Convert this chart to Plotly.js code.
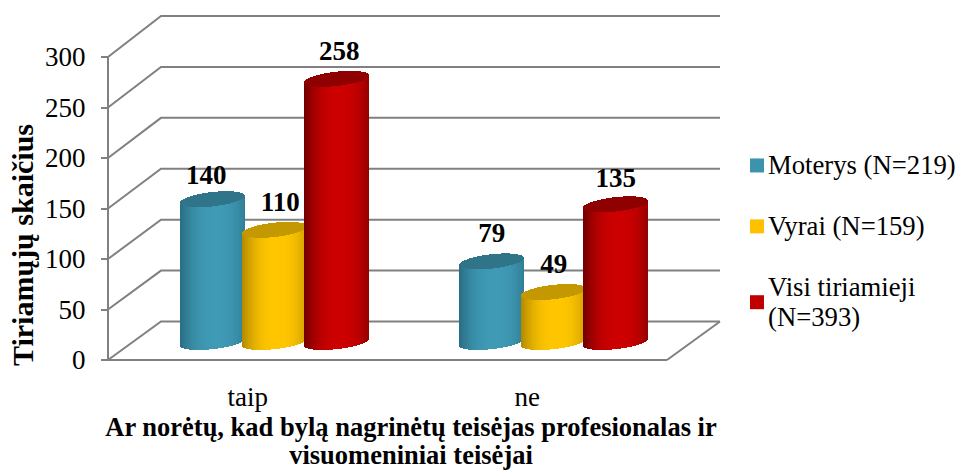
<!DOCTYPE html>
<html><head><meta charset="utf-8">
<script src="https://cdn.plot.ly/plotly-3.0.1.min.js"></script>
<style>html,body{margin:0;padding:0;background:#fff}</style></head>
<body><div id="chart" style="width:960px;height:470px"></div>
<script>
var categories = ["taip", "ne"];
var seriesNames = ["Moterys (N=219)", "Vyrai (N=159)", "Visi tiriamieji<br>(N=393)"];
var moterys = [140, 79];
var vyrai = [110, 49];
var visi = [258, 135];
var tickValues = [0, 50, 100, 150, 200, 250, 300];
var values = [moterys, vyrai, visi];
var centerColors = [[63,154,181],[255,198,0],[204,0,0]];
var edgeColors = [[40,108,130],[176,136,0],[112,0,0]];
var capColors = ["#2f7489", "#c39800", "#8f0000"];
var swatchColors = ["#3b93ad", "#ffc000", "#c00000"];
var labelNudgePx = [[-6, 6, 3], [0, 0, 0]];
var labelRisePx = [[22, 26, 26], [26, 26, 24]];

var FONT = '"Liberation Serif", serif';
var pxX = 279.5, pxY = 1.01;
var plotL = 100, plotR = 722, plotT = 5, plotB = 375, front0 = 360, axisPx = 108;
var xMin = (plotL - axisPx) / pxX, xMax = (plotR - axisPx) / pxX;
var yMin = (front0 - plotB) / pxY, yMax = (front0 - plotT) / pxY;
var depthX = 53 / pxX, frontW = 2;
function depthY(v) { return (38.5 + v * 2.5 / 300) / pxY; }
function paperX(px) { return (px - plotL) / (plotR - plotL); }
function paperY(px) { return (plotB - px) / (plotB - plotT); }
function sized(t, s) { return '<span style="font-size:' + s + 'px">' + t + '</span>'; }

var shapes = [];
var gridLine = {color: "#808080", width: 2};
tickValues.forEach(function (v) {
  var bx = depthX, by = v + depthY(v);
  shapes.push({type: "path", layer: "below", xref: "x", yref: "y", line: gridLine,
    path: "M0," + v + " L" + bx + "," + by + " L" + (frontW + depthX) + "," + by});
});
shapes.push({type: "line", layer: "below", xref: "x", yref: "y", x0: 0, x1: frontW, y0: 0, y1: 0, line: gridLine});
shapes.push({type: "line", layer: "below", xref: "x", yref: "y", x0: frontW, x1: frontW + depthX, y0: 0, y1: depthY(0), line: gridLine});
shapes.push({type: "line", layer: "below", xref: "x", yref: "y", x0: 0, x1: 0, y0: 0, y1: tickValues[tickValues.length - 1], line: gridLine});

var halfW = 32.5, ellB = 7.2, ellK = 3.5, stepPx = 62, baseV = 18 / pxY, heightK = 1.02 / pxY;
function mix(a, b, f) {
  return "rgb(" + a.map(function (c, i) { return Math.round(c + (b[i] - c) * f); }).join(",") + ")";
}
function groupX(c) { return c + 0.5 + depthX / 2; }

var traces = [];
var labelX = [], labelY = [], labelT = [];
values.forEach(function (vals, s) {
  var cx = vals.map(function (_, c) { return groupX(c) + (s - 1) * stepPx / pxX; });
  traces.push({type: "bar", name: sized(seriesNames[s], 26.7), x: cx, y: vals, base: vals.map(function () { return baseV; }),
    width: 30 / pxX, opacity: 1, marker: {color: swatchColors[s], opacity: 1, line: {width: 0}}, legendgroup: "g" + s,
    hovertemplate: "%{y}<extra></extra>"});
  var xs = [], ys = [], bs = [], cols = [];
  vals.forEach(function (val, c) {
    var top = baseV + val * heightK;
    for (var i = 0; i < 65; i++) {
      var u = (i + 0.5 - halfW) / halfW, sn = Math.sqrt(1 - u * u);
      var xp = cx[c] + (i + 0.5 - halfW) / pxX;
      var lower = (ellB * sn - ellK * u) / pxY, upper = (ellB * sn + ellK * u) / pxY;
      var f = Math.pow(Math.abs(u - 0.1) / 1.1, 2.4);
      xs.push(xp); bs.push(baseV - lower); ys.push(top - lower - (baseV - lower));
      cols.push(mix(centerColors[s], edgeColors[s], f));
      xs.push(xp); bs.push(top - lower); ys.push(upper + lower);
      cols.push(capColors[s]);
    }
    labelX.push(cx[c] + labelNudgePx[c][s] / pxX);
    labelY.push(top + labelRisePx[c][s] / pxY);
    labelT.push(String(val));
  });
  traces.push({type: "bar", x: xs, y: ys, base: bs, width: 1 / pxX, opacity: 1, showlegend: false, hoverinfo: "skip",
    marker: {color: cols, opacity: 1, line: {width: 0}}});
});
traces.push({type: "scatter", mode: "text", x: labelX, y: labelY, text: labelT, showlegend: false, hoverinfo: "skip",
  textposition: "middle center", textfont: {family: FONT, size: 27, color: "#000", weight: 700}, cliponaxis: false});

var layout = {
  width: 960, height: 470, autosize: false, barmode: "overlay", bargap: 0, bargroupgap: 0, showlegend: true,
  paper_bgcolor: "#fff", plot_bgcolor: "rgba(0,0,0,0)",
  margin: {l: plotL, r: 960 - plotR, t: plotT, b: 470 - plotB, pad: 0, autoexpand: false},
  font: {family: FONT, color: "#000"},
  xaxis: {range: [xMin, xMax], showgrid: false, zeroline: false, showline: false, ticks: "", ticklabelstandoff: 3,
    tickmode: "array", tickvals: [0.5, 1.5], ticktext: categories, tickfont: {family: FONT, size: 27},
    title: {text: '<b>' + sized("Ar norėtų, kad bylą nagrinėtų teisėjas profesionalas ir", 26.5) + '<br>' + sized("visuomeniniai teisėjai", 26.5) + '</b>',
      font: {family: FONT, size: 21.5}, standoff: 12}, automargin: true, fixedrange: true},
  yaxis: {range: [yMin, yMax], anchor: "free", position: paperX(axisPx), showgrid: false, zeroline: false, showline: false,
    ticks: "outside", ticklen: 7, tickwidth: 2, tickcolor: "#808080", ticklabelstandoff: 10,
    tickmode: "array", tickvals: tickValues, tickfont: {family: FONT, size: 27}, automargin: false, fixedrange: true},
  legend: {x: paperX(728), y: paperY(144), xanchor: "left", yanchor: "top", traceorder: "grouped", tracegroupgap: 28,
    font: {family: FONT, size: 23}, bgcolor: "rgba(0,0,0,0)"},
  shapes: shapes,
  annotations: [{xref: "paper", yref: "paper", x: paperX(22), y: paperY(245), xanchor: "center", yanchor: "middle", showarrow: false,
    textangle: -90, text: "<b>Tiriamųjų skaičius</b>", font: {family: FONT, size: 30}}]
};
Plotly.newPlot("chart", traces, layout, {staticPlot: true, displayModeBar: false}).then(function () {
  document.querySelectorAll(".legend .legendsymbols").forEach(function (g) { g.setAttribute("transform", "translate(9,0)"); });
  document.querySelectorAll(".legend .legendsymbols path").forEach(function (p) { p.setAttribute("d", "M7,7H-7V-7H7Z"); });
});
</script></body></html>
